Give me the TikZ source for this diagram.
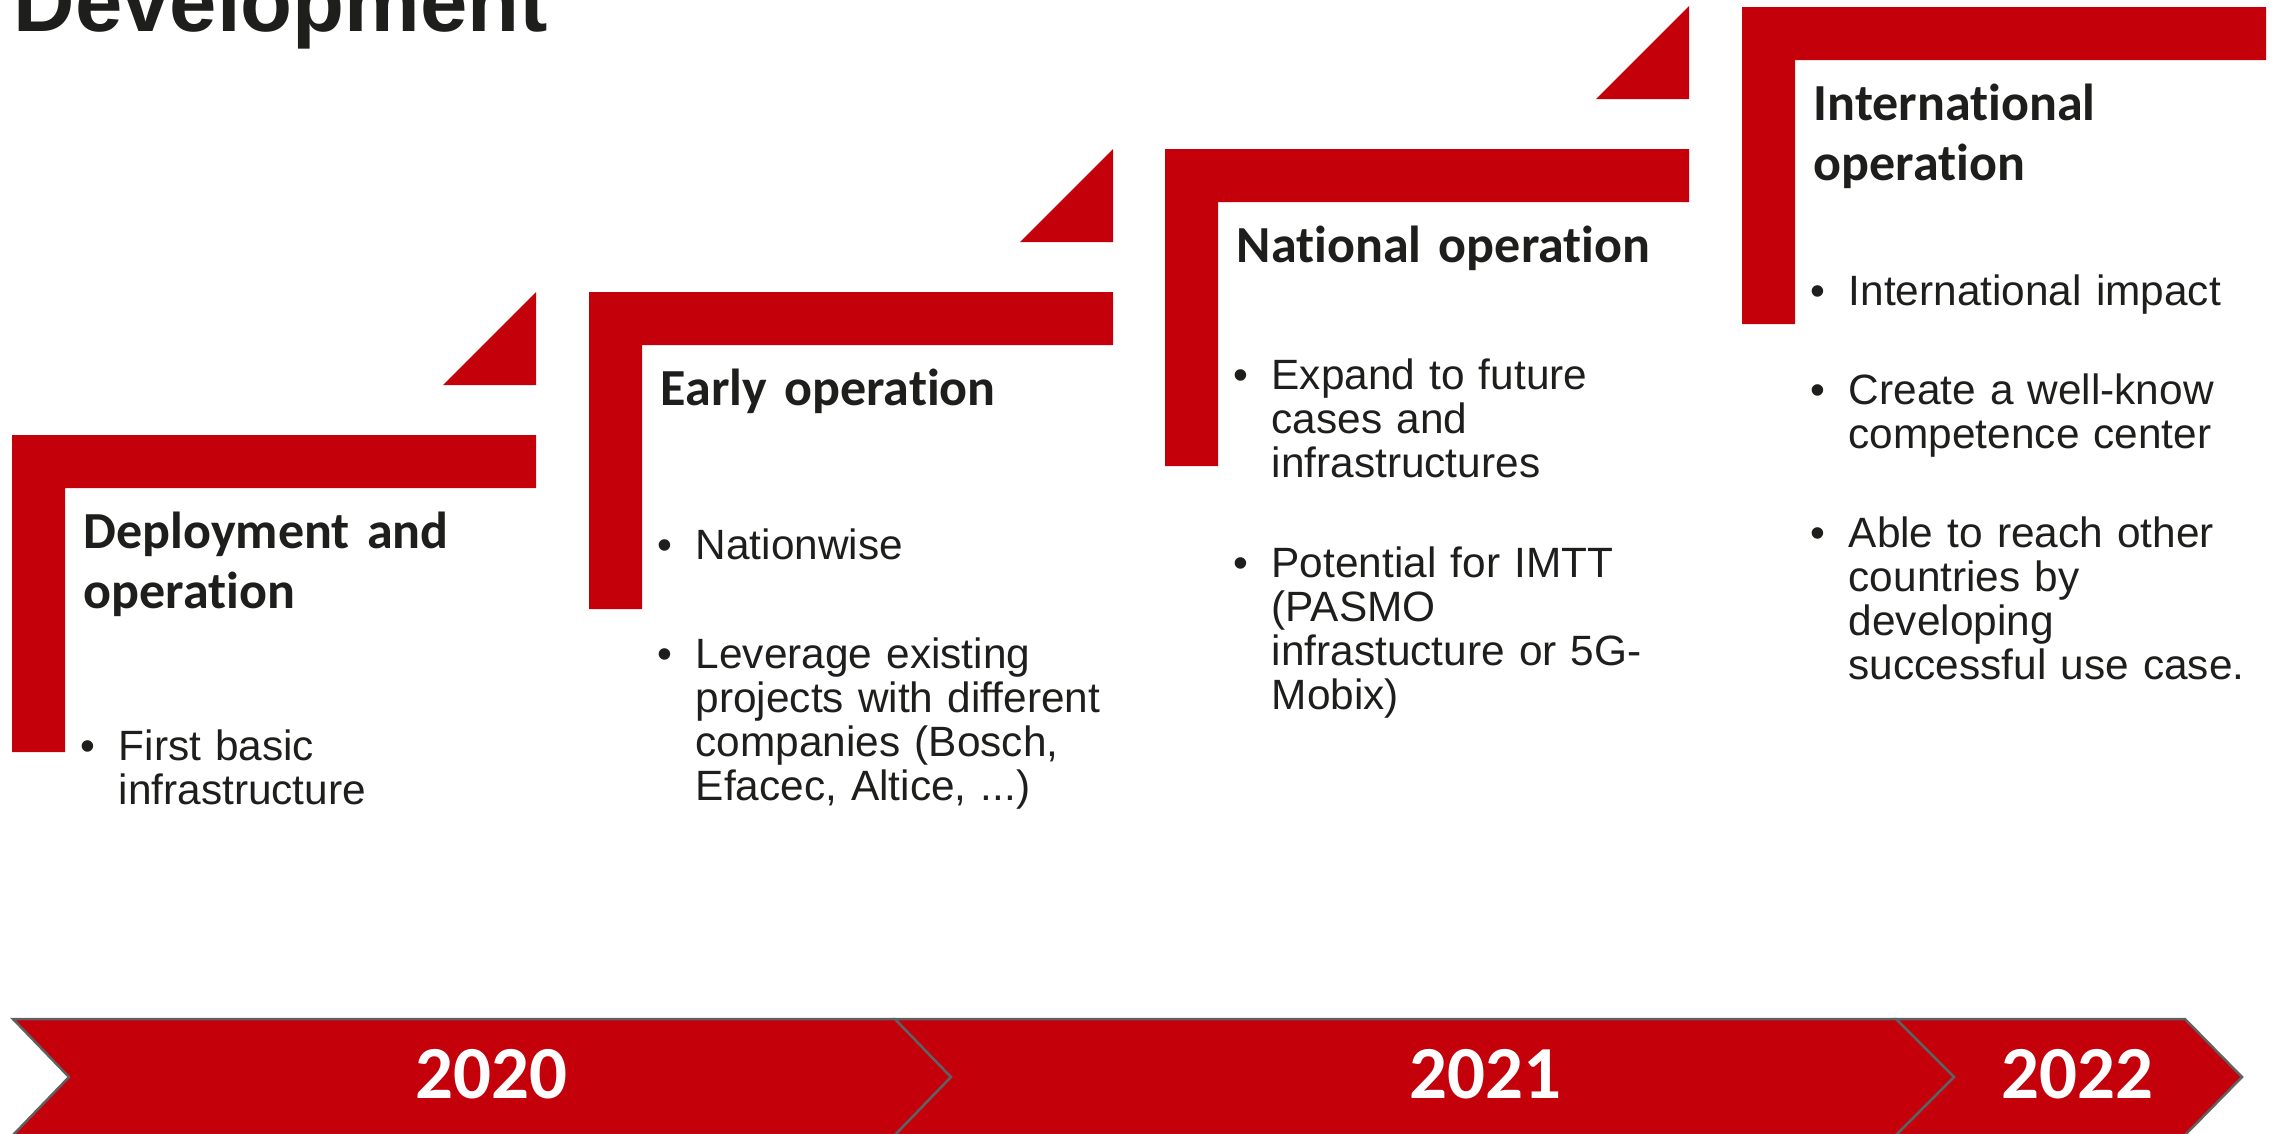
\documentclass[tikz,border=0pt]{standalone}
\usepackage{fontspec}
\setmainfont{Liberation Sans}
\newfontfamily\carlito{Carlito}[Ligatures=NoCommon]
\usepackage{tikz}

\definecolor{stepred}{RGB}{196,0,11}
\definecolor{ink}{RGB}{30,30,28}
\definecolor{rim}{RGB}{95,96,96}
\newcommand{\bul}{\makebox[0.38cm][l]{\textbullet}}
\newcommand{\ind}{\hspace*{0.38cm}}

\begin{document}
\begin{tikzpicture}[x=0.01cm, y=-0.01cm,
  head/.style={anchor=base west, inner sep=0pt, text width=4.6cm, align=left, text=ink,
    font=\carlito\bfseries\fontsize{14.8}{17.07}\selectfont},
  item/.style={anchor=base west, inner sep=0pt, text width=4.6cm, align=left, text=ink,
    font=\fontsize{12.05}{12.52}\selectfont},
  year/.style={anchor=base, inner sep=0pt, text=white,
    font=\carlito\bfseries\fontsize{21.3}{25}\selectfont},
  band/.style={fill=stepred, draw=rim, line width=0.7pt}]
\useasboundingbox (0,0) rectangle (2273,1133);
\clip (0,0) rectangle (2273,1133);
\node[anchor=base west, inner sep=0pt, text=ink, font=\bfseries\fontsize{24.2}{29}\selectfont] (title) at (13,31) {Development};

\begin{scope}[shift={(12,435)}]
  \fill[stepred] (0,0) -- (524,0) -- (524,53) -- (53,53) -- (53,317) -- (0,317) -- cycle;
  \fill[stepred] (524,-143) -- (524,-50) -- (431,-50) -- cycle;
  \node[head] (deploy) at (71,113) {Deployment and\\operation};
  \node[item] (basic) at (68,325) {\bul First basic\\\ind infrastructure};
\end{scope}
\begin{scope}[shift={(589,292)}]
  \fill[stepred] (0,0) -- (524,0) -- (524,53) -- (53,53) -- (53,317) -- (0,317) -- cycle;
  \fill[stepred] (524,-143) -- (524,-50) -- (431,-50) -- cycle;
  \node[head] (early) at (71,113) {Early operation};
  \node[item] (nation) at (68,267) {\bul Nationwise};
  \node[item] (leverage) at (68,376) {\bul Leverage existing\\\ind projects with different\\\ind companies (Bosch,\\\ind Efacec, Altice, ...)};
\end{scope}
\begin{scope}[shift={(1165,149)}]
  \fill[stepred] (0,0) -- (524,0) -- (524,53) -- (53,53) -- (53,317) -- (0,317) -- cycle;
  \fill[stepred] (524,-143) -- (524,-50) -- (431,-50) -- cycle;
  \node[head] (national) at (71,113) {National operation};
  \node[item] (expand) at (68,240) {\bul Expand to future\\\ind cases and\\\ind infrastructures};
  \node[item] (imtt) at (68,428) {\bul Potential for IMTT\\\ind (PASMO\\\ind infrastucture or 5G-\\\ind Mobix)};
\end{scope}
\begin{scope}[shift={(1742,7)}]
  \fill[stepred] (0,0) -- (524,0) -- (524,53) -- (53,53) -- (53,317) -- (0,317) -- cycle;
  \node[head] (intl) at (71,113) {International\\operation};
  \node[item] (impact) at (68,298) {\bul International impact};
  \node[item] (center) at (68,397) {\bul Create a well-know\\\ind competence center};
  \node[item] (reach) at (68,540) {\bul Able to reach other\\\ind countries by\\\ind developing\\\ind successful use case.};
\end{scope}

% timeline
\draw[band] (13,1019) -- (895,1019) -- (951,1077) -- (895,1135) -- (13,1135) -- (69,1077) -- cycle;
\draw[band] (895,1019) -- (1896,1019) -- (1954,1077) -- (1896,1135) -- (895,1135) -- (951,1077) -- cycle;
\draw[band] (1896,1019) -- (2185,1019) -- (2242,1077) -- (2185,1135) -- (1896,1135) -- (1954,1077) -- cycle;
\node[year] (y2020) at (491,1098) {2020};
\node[year] (y2021) at (1485,1098) {2021};
\node[year] (y2022) at (2077,1098) {2022};
\end{tikzpicture}
\end{document}
